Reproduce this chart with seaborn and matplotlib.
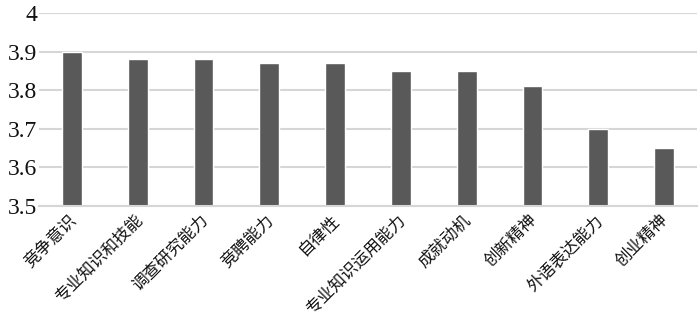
import matplotlib
matplotlib.use("Agg")
import matplotlib.pyplot as plt
import matplotlib.transforms as mtransforms
import seaborn as sns
import pandas as pd

categories = ["竞争意识", "专业知识和技能", "调查研究能力", "竞聘能力", "自律性",
              "专业知识运用能力", "成就动机", "创新精神", "外语表达能力", "创业精神"]
values = [3.90, 3.88, 3.88, 3.87, 3.87, 3.85, 3.85, 3.81, 3.70, 3.65]
yticks = [3.5, 3.6, 3.7, 3.8, 3.9, 4.0]
ytick_labels = ["3.5", "3.6", "3.7", "3.8", "3.9", "4"]

sns.set_theme(style="white")
plt.rcParams['font.family'] = ['Noto Sans CJK SC', 'DejaVu Sans']

df = pd.DataFrame({"cat": categories, "val": values})

fig = plt.figure(figsize=(7.0, 3.27), dpi=100)
ax = fig.add_axes([39/700, 1 - 206/327, 658/700, 193/327])

sns.barplot(data=df, x="cat", y="val", color="#595959", width=0.3,
            saturation=1, ax=ax, bottom=0)
ax.set_ylim(3.5, 4.0)
ax.set_xlim(-0.5, len(categories) - 0.5)
ax.set_yticks(yticks)
ax.set_yticklabels(ytick_labels, fontfamily="Liberation Serif", fontsize=17)
ax.yaxis.grid(True, color="#d6d6d6", linewidth=1.5)
ax.set_axisbelow(True)
for s in ["top", "right", "left"]:
    ax.spines[s].set_visible(False)
ax.spines["bottom"].set_color("#d6d6d6")
ax.spines["bottom"].set_linewidth(1.5)
ax.tick_params(axis="y", length=0, pad=1)
ax.tick_params(axis="x", length=0, pad=4)
ax.set_xlabel("")
ax.set_ylabel("")
ax.set_xticks(range(len(categories)))
ax.set_xticklabels(categories, rotation=45, ha="right", rotation_mode="anchor",
                   fontsize=12, color="#111111")
offset = mtransforms.ScaledTranslation(-4/100, 0, fig.dpi_scale_trans)
for lbl in ax.get_xticklabels():
    lbl.set_transform(lbl.get_transform() + offset)
for lbl in ax.get_yticklabels():
    lbl.set_color("#111111")

fig.savefig("out.png", dpi=100)
